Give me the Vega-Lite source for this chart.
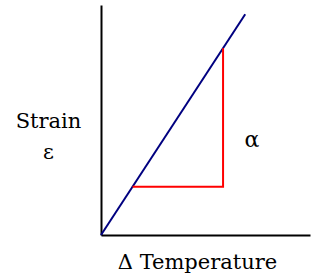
{
  "$schema": "https://vega.github.io/schema/vega-lite/v6.json",
  "width": 209,
  "height": 230,
  "autosize": {"type": "none"},
  "padding": {"left": 101, "top": 5, "right": 2, "bottom": 45},
  "background": "white",
  "config": {"view": {"stroke": null}},
  "datasets": {
    "lines": [
      {"series": "strain", "order": 1, "x": 0, "y": 0},
      {"series": "strain", "order": 2, "x": 6.9, "y": 9.6},
      {"series": "slope", "order": 1, "x": 1.51, "y": 2.1},
      {"series": "slope", "order": 2, "x": 5.84, "y": 2.1},
      {"series": "slope", "order": 3, "x": 5.84, "y": 8.12}
    ],
    "labels": [
      {"label": "α", "x": 7.22, "y": 4.13}
    ]
  },
  "layer": [
    {
      "data": {"name": "lines"},
      "mark": {"type": "line", "strokeWidth": 2},
      "encoding": {
        "x": {
          "field": "x", "type": "quantitative",
          "scale": {"domain": [0, 10], "nice": false, "zero": false},
          "axis": {
            "grid": false, "ticks": false, "labels": false,
            "domainColor": "black", "domainWidth": 2,
            "title": "Δ Temperature",
            "titleFont": "DejaVu Serif", "titleFontSize": 21, "titleFontWeight": "normal",
            "titleColor": "black", "titleX": 96, "titleY": 33,
            "titleBaseline": "alphabetic", "titleAlign": "center"
          }
        },
        "y": {
          "field": "y", "type": "quantitative",
          "scale": {"domain": [0, 10], "nice": false, "zero": false},
          "axis": {
            "grid": false, "ticks": false, "labels": false,
            "domainColor": "black", "domainWidth": 2,
            "title": ["Strain", "ε"],
            "titleFont": "DejaVu Serif", "titleFontSize": 21, "titleFontWeight": "normal",
            "titleColor": "black", "titleAngle": 0, "titleX": -53, "titleY": 122,
            "titleBaseline": "alphabetic", "titleAlign": "center", "titleLineHeight": 31
          }
        },
        "order": {"field": "order"},
        "detail": {"field": "series"},
        "color": {
          "field": "series", "type": "nominal",
          "scale": {"domain": ["strain", "slope"], "range": ["#000080", "#ff0000"]},
          "legend": null
        }
      }
    },
    {
      "data": {"name": "labels"},
      "mark": {"type": "text", "font": "DejaVu Serif", "fontSize": 22, "color": "black", "baseline": "middle", "align": "center"},
      "encoding": {
        "x": {"field": "x", "type": "quantitative"},
        "y": {"field": "y", "type": "quantitative"},
        "text": {"field": "label"}
      }
    }
  ]
}
